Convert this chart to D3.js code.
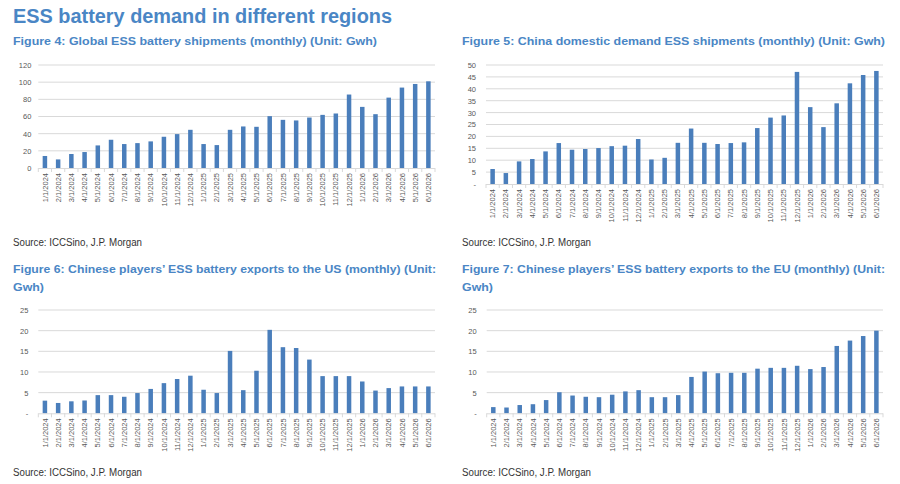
<!DOCTYPE html>
<html>
<head>
<meta charset="utf-8">
<script src="https://cdn.jsdelivr.net/npm/d3@7"></script>
<style>
  html, body { margin: 0; padding: 0; background: #ffffff; }
  svg { display: block; font-family: "Liberation Sans", Arial, sans-serif; }
</style>
</head>
<body>
<svg id="chart" width="900" height="484"></svg>
<script>
const months = ["1/1/2024","2/1/2024","3/1/2024","4/1/2024","5/1/2024","6/1/2024","7/1/2024","8/1/2024","9/1/2024","10/1/2024","11/1/2024","12/1/2024",
  "1/1/2025","2/1/2025","3/1/2025","4/1/2025","5/1/2025","6/1/2025","7/1/2025","8/1/2025","9/1/2025","10/1/2025","11/1/2025","12/1/2025",
  "1/1/2026","2/1/2026","3/1/2026","4/1/2026","5/1/2026","6/1/2026"];

const globalShipments = [14,10,16.3,18.6,26.3,32.9,27.9,29,31,36.4,39.5,44.5,27.9,26.7,44.5,48.4,48,60.4,56.1,55.4,58.8,61.9,63.5,85.6,71.2,62.7,82,93.7,97.9,101];
const chinaDomestic = [6.3,4.6,9.5,10.5,13.7,17.2,14.4,14.7,15.1,15.9,16.1,18.9,10.3,11,17.3,23.3,17.3,16.8,17.2,17.5,23.5,27.9,28.8,47.1,32.3,23.9,33.9,42.3,45.8,47.5];
const exportsUS = [3.06,2.5,2.9,3.1,4.4,4.4,4.0,4.9,5.9,7.3,8.3,9.1,5.7,4.9,15.1,5.6,10.3,20.2,16.0,15.8,13.0,9.0,9.0,9.0,7.7,5.5,6.1,6.5,6.5,6.5];
const exportsEU = [1.5,1.4,2.0,2.2,3.2,5.1,4.3,4.0,3.9,4.5,5.3,5.6,3.9,3.9,4.4,8.8,10.1,9.7,9.8,9.8,10.8,11.0,11.0,11.5,10.7,11.2,16.3,17.6,18.7,20.0];

const ticksGlobal = [0,20,40,60,80,100,120];
const ticksChina = [0,5,10,15,20,25,30,35,40,45,50];
const ticksExports = [0,5,10,15,20,25];

const mainTitle = "ESS battery demand in different regions";
const sourceText = "Source: ICCSino, J.P. Morgan";

const BLUE_TITLE = "#4a86c5";
const BAR = "#4a7ebb";
const GRID = "#d9d9d9";
const svg = d3.select("#chart");

svg.append("text").attr("x", 13).attr("y", 23)
  .attr("font-size", 20).attr("font-weight", "bold").attr("fill", BLUE_TITLE)
  .attr("textLength", 379).attr("lengthAdjust", "spacingAndGlyphs")
  .text(mainTitle);

function panel(cfg) {
  const g = svg.append("g");
  cfg.title.forEach((t, i) => {
    const tx = g.append("text").attr("x", cfg.tx).attr("y", cfg.ty + i * 18)
      .attr("font-size", 11.8).attr("font-weight", "bold").attr("fill", BLUE_TITLE)
      .text(t.s);
    if (t.len) tx.attr("textLength", t.len).attr("lengthAdjust", "spacingAndGlyphs");
  });
  const x = d3.scaleBand().domain(months).range([cfg.x0, cfg.x1]).paddingInner(0.66).paddingOuter(0.33);
  const y = d3.scaleLinear().domain([0, d3.max(cfg.ticks)]).range([cfg.y0, cfg.y1]);

  g.append("g").selectAll("line").data(cfg.ticks.filter(d => d > 0)).join("line")
    .attr("x1", cfg.x0).attr("x2", cfg.x1)
    .attr("y1", d => y(d)).attr("y2", d => y(d))
    .attr("stroke", GRID).attr("stroke-width", 1);

  const yAxis = d3.axisLeft(y).tickValues(cfg.ticks).tickSize(0).tickPadding(0)
    .tickFormat(d => (d === 0 && cfg.dashZero) ? "-" : d3.format("d")(d));
  const ya = g.append("g").attr("transform", `translate(${cfg.x0 - cfg.labelGap},0)`).call(yAxis);
  ya.select(".domain").remove();
  ya.selectAll("text").attr("font-size", 7.5).attr("fill", "#595959")
    .attr("font-family", "Liberation Sans, Arial, sans-serif");

  g.append("g").selectAll("rect").data(cfg.values).join("rect")
    .attr("x", (d, i) => x(months[i]))
    .attr("width", x.bandwidth())
    .attr("y", d => y(d))
    .attr("height", d => y(0) - y(d))
    .attr("fill", BAR);

  const step = x.step();
  g.append("line").attr("x1", cfg.x0).attr("x2", cfg.x1)
    .attr("y1", y(0) + 0.5).attr("y2", y(0) + 0.5).attr("stroke", GRID).attr("stroke-width", 1);
  const bounds = months.map((m) => x(m) - x.paddingOuter() * step).concat([cfg.x1]);
  g.append("g").selectAll("line").data(bounds).join("line")
    .attr("x1", d => d).attr("x2", d => d)
    .attr("y1", y(0)).attr("y2", y(0) + 4)
    .attr("stroke", GRID).attr("stroke-width", 1);
  g.append("g").selectAll("text").data(months).join("text")
    .attr("transform", d => `translate(${x(d) + x.bandwidth() / 2 + 2.6},${y(0) + 5}) rotate(-90)`)
    .attr("text-anchor", "end")
    .attr("font-size", 7.5).attr("fill", "#595959")
    .text(d => d);

  g.append("text").attr("x", cfg.tx).attr("y", cfg.sy)
    .attr("font-size", 10).attr("fill", "#333333")
    .attr("textLength", 129).attr("lengthAdjust", "spacingAndGlyphs")
    .text(sourceText);
}

panel({ title: [{ s: "Figure 4: Global ESS battery shipments (monthly) (Unit: Gwh)", len: 364 }],
  tx: 13, ty: 45, x0: 38.3, x1: 435, y0: 168, y1: 65, ticks: ticksGlobal, values: globalShipments,
  dashZero: false, labelGap: 7, sy: 246 });
panel({ title: [{ s: "Figure 5: China domestic demand ESS shipments (monthly) (Unit: Gwh)", len: 423 }],
  tx: 462, ty: 45, x0: 486, x1: 883, y0: 184, y1: 65, ticks: ticksChina, values: chinaDomestic,
  dashZero: true, labelGap: 10, sy: 246 });
panel({ title: [{ s: "Figure 6: Chinese players\u2019 ESS battery exports to the US (monthly) (Unit:", len: 423 }, { s: "Gwh)", len: 31 }],
  tx: 13, ty: 273, x0: 38.3, x1: 435, y0: 413.3, y1: 310, ticks: ticksExports, values: exportsUS,
  dashZero: true, labelGap: 10, sy: 476 });
panel({ title: [{ s: "Figure 7: Chinese players\u2019 ESS battery exports to the EU (monthly) (Unit:", len: 423 }, { s: "Gwh)", len: 31 }],
  tx: 462, ty: 273, x0: 486.7, x1: 883, y0: 413.3, y1: 310, ticks: ticksExports, values: exportsEU,
  dashZero: true, labelGap: 10, sy: 476 });
</script>
</body>
</html>
